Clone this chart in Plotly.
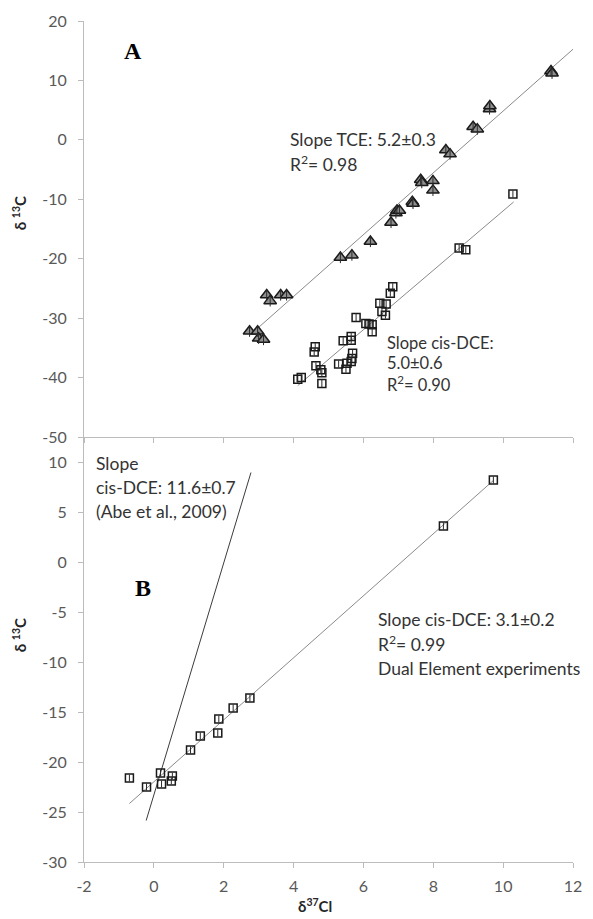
import plotly.graph_objects as go

# Top panel: TCE and cis-DCE dual isotope data (δ37Cl, δ13C)
tce_cl = [2.74, 2.97, 3.00, 3.14, 3.23, 3.33, 3.63, 3.80, 5.34, 5.67, 6.20, 6.79, 6.93, 6.96,
          7.03, 7.40, 7.42, 7.64, 7.67, 7.99, 7.99, 8.36, 8.48, 9.14, 9.26, 9.61, 9.62, 11.37, 11.40]
tce_c = [-32.2, -32.2, -33.4, -33.6, -26.1, -27.1, -26.1, -26.1, -19.8, -19.4, -17.1, -13.9, -12.3, -11.9,
         -11.9, -10.4, -10.7, -6.7, -7.2, -6.9, -8.5, -1.7, -2.4, 2.2, 1.8, 5.2, 5.7, 11.6, 11.2]

dce_cl = [10.28, 8.74, 8.93, 6.84, 6.77, 6.47, 6.65, 6.53, 6.63, 5.79, 6.07, 6.16, 6.25, 6.25, 5.65, 5.65,
          5.42, 5.69, 5.67, 5.65, 5.53, 5.29, 5.50, 4.62, 4.59, 4.64, 4.78, 4.81, 4.81, 4.12, 4.22]
dce_c = [-9.1, -18.2, -18.5, -24.7, -25.8, -27.5, -27.6, -28.9, -29.5, -29.9, -30.9, -31.0, -31.1, -32.3, -33.1, -33.7,
         -33.8, -35.9, -36.8, -37.3, -37.6, -37.7, -38.6, -34.8, -35.7, -38.0, -38.7, -39.2, -41.0, -40.3, -40.0]

# Bottom panel: cis-DCE dual element experiments
dual_cl = [-0.70, -0.21, 0.19, 0.22, 0.50, 0.53, 1.05, 1.33, 1.86, 1.83, 2.27, 2.75, 8.29, 9.72]
dual_c = [-21.6, -22.5, -21.1, -22.2, -21.9, -21.4, -18.8, -17.4, -15.7, -17.1, -14.6, -13.6, 3.6, 8.2]

# Linear regressions: slope, intercept, x extent
fit_tce = dict(slope=5.2, intercept=-47.15, x=[2.74, 12.0])
fit_dce = dict(slope=5.0, intercept=-61.95, x=[4.12, 10.3])
fit_dual = dict(slope=3.1, intercept=-21.98, x=[-0.70, 9.72])
fit_abe = dict(slope=11.6, intercept=-23.3, x=[-0.22, 2.78])

x_ticks = [-2, 0, 2, 4, 6, 8, 10, 12]
x_tick_text = ["-2", "0", "2", "4", "6", "8", "10", "12"]
y_ticks_top = [-50, -40, -30, -20, -10, 0, 10, 20]
y_tick_text_top = ["-50", "-40", "-30", "-20", "-10", "0", "10", "20"]
y_ticks_bottom = [-30, -25, -20, -15, -10, -5, 0, 5, 10]
y_tick_text_bottom = ["-30", "-25", "-20", "-15", "-10", "-5", "0", "5", "10"]

FONT = "Lato"
AXIS_GREY = "#bcbcbc"
TICK_TEXT = "#595959"
TEXT = "#333333"

W, H = 593, 919
ML, MR, MT, MB = 84, 11, 21, 57
PW, PH = W - ML - MR, H - MT - MB


def px(x):
    return (x - ML) / PW


def py(y):
    return (H - MB - y) / PH


def fit_line(fit):
    xs = fit["x"]
    return xs, [fit["slope"] * v + fit["intercept"] for v in xs]


fig = go.Figure()


def add_points(xs, ys, xa, ya, symbol, fill, size):
    fig.add_trace(go.Scatter(
        x=xs, y=ys, xaxis=xa, yaxis=ya, mode="markers", showlegend=False,
        marker=dict(symbol=symbol, size=size, color=fill,
                    line=dict(color="#1a1a1a", width=1.5))))
    fig.add_trace(go.Scatter(
        x=xs, y=ys, xaxis=xa, yaxis=ya, mode="markers", showlegend=False,
        marker=dict(symbol="line-ns", size=size - 3,
                    line=dict(color="#2a2a2a", width=1))))


def add_fit(fit, xa, ya, color):
    lx, ly = fit_line(fit)
    fig.add_trace(go.Scatter(x=lx, y=ly, xaxis=xa, yaxis=ya, mode="lines",
                             showlegend=False, line=dict(color=color, width=1)))


# top panel (x2 / y2)
add_fit(fit_tce, "x2", "y2", "#8a8a8a")
add_fit(fit_dce, "x2", "y2", "#8a8a8a")
add_points(tce_cl, tce_c, "x2", "y2", "triangle-up", "#8f8f8f", 11)
add_points(dce_cl, dce_c, "x2", "y2", "square", "rgba(255,255,255,0)", 8)

# bottom panel (x / y)
add_fit(fit_abe, "x", "y", "#3c3c3c")
add_fit(fit_dual, "x", "y", "#8a8a8a")
add_points(dual_cl, dual_c, "x", "y", "square", "rgba(255,255,255,0)", 8)

axis_common = dict(showline=True, linecolor=AXIS_GREY, linewidth=1, showgrid=False,
                   zeroline=False, ticks="outside", ticklen=5, tickcolor=AXIS_GREY,
                   tickfont=dict(family=FONT, size=16, color=TICK_TEXT))

split = py(437)

fig.update_layout(
    width=W, height=H,
    margin=dict(l=ML, r=MR, t=MT, b=MB),
    paper_bgcolor="white", plot_bgcolor="white",
    xaxis=dict(domain=[0, 1], anchor="y", range=[-2, 12], tickvals=x_ticks, ticktext=x_tick_text,
               ticklabelstandoff=5, **axis_common),
    yaxis=dict(domain=[0, split], anchor="x", range=[-30, -30 + (H - MB - 437) / 10.0],
               tickvals=y_ticks_bottom, ticktext=y_tick_text_bottom, ticklabelstandoff=8, **axis_common),
    xaxis2=dict(domain=[0, 1], anchor="y2", matches="x", range=[-2, 12], tickvals=x_ticks,
                showticklabels=False, **axis_common),
    yaxis2=dict(domain=[split, 1], anchor="x2", range=[-50, 20], tickvals=y_ticks_top,
                ticktext=y_tick_text_top, ticklabelstandoff=8, **axis_common),
)

notes = [
    # (text, x px, y px, size, color, family, bold, angle, xanchor)
    ("A", 134, 51, 24, "#000000", "Liberation Serif", True, 0, "center"),
    ("B", 144.5, 588, 24, "#000000", "Liberation Serif", True, 0, "center"),
    ("Slope TCE: 5.2±0.3", 292, 140, 17.5, TEXT, FONT, False, 0, "left"),
    ("R<sup>2</sup>= 0.98", 292, 163, 17.5, TEXT, FONT, False, 0, "left"),
    ("Slope cis-DCE:", 391, 343, 16.5, TEXT, FONT, False, 0, "left"),
    ("5.0±0.6", 391, 363, 16.5, TEXT, FONT, False, 0, "left"),
    ("R<sup>2</sup>= 0.90", 391, 384, 16.5, TEXT, FONT, False, 0, "left"),
    ("Slope", 94, 463.5, 17.5, TEXT, FONT, False, 0, "left"),
    ("cis-DCE: 11.6±0.7", 94, 487.5, 17.5, TEXT, FONT, False, 0, "left"),
    ("(Abe et al., 2009)", 94, 511.5, 17.5, TEXT, FONT, False, 0, "left"),
    ("Slope cis-DCE: 3.1±0.2", 381, 620, 17.5, TEXT, FONT, False, 0, "left"),
    ("R<sup>2</sup>= 0.99", 381, 643.5, 17.5, TEXT, FONT, False, 0, "left"),
    ("Dual Element experiments", 381, 668, 17.5, TEXT, FONT, False, 0, "left"),
    ("δ <sup>13</sup>C", 18, 213, 15, "#262626", FONT, True, -90, "center"),
    ("δ <sup>13</sup>C", 18, 635, 15, "#262626", FONT, True, -90, "center"),
    ("δ<sup>37</sup>Cl", 319, 905, 15, "#262626", FONT, True, 0, "center"),
]

for text, x, y, size, color, family, bold, angle, xanchor in notes:
    fig.add_annotation(
        text=f"<b>{text}</b>" if bold else text,
        x=px(x), y=py(y), xref="paper", yref="paper",
        xanchor=xanchor, yanchor="middle", showarrow=False, textangle=angle,
        font=dict(family=family, size=size, color=color))

fig.write_html("out.html")
